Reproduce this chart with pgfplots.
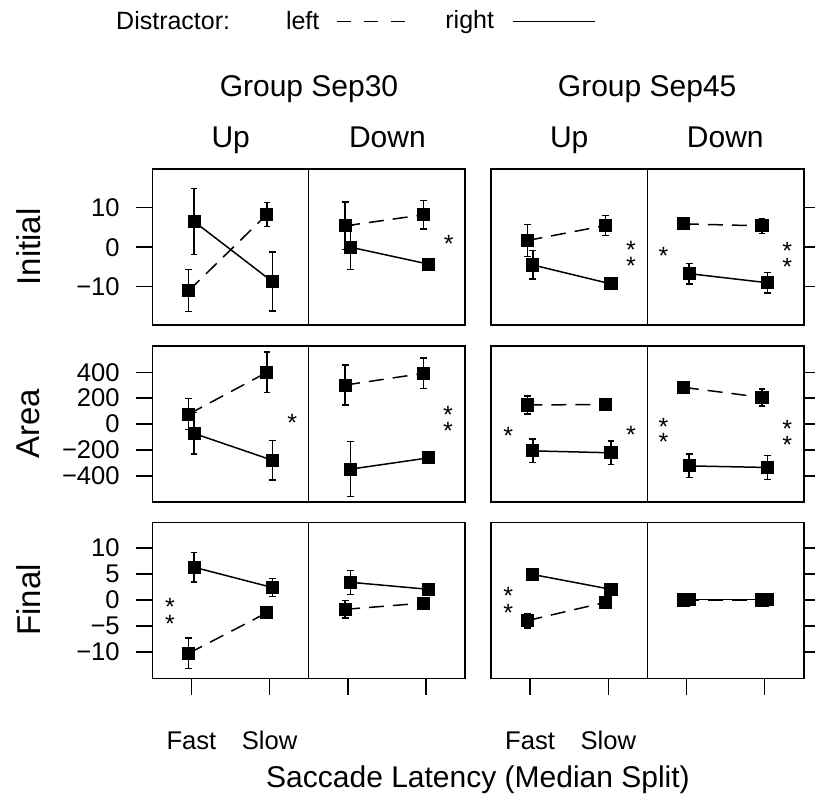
\documentclass[border=0pt]{standalone}
\usepackage{fontspec}
\setmainfont{Liberation Sans}
\usepackage{pgfplots}
\pgfplotsset{compat=1.18}
\newcommand\tickfont{\fontsize{12.8pt}{15pt}\selectfont}
\newcommand\titfont{\fontsize{15pt}{18pt}\selectfont}
\newcommand\rowfont{\fontsize{16.5pt}{19pt}\selectfont}
\newcommand\legfont{\fontsize{12.5pt}{15pt}\selectfont}
\begin{document}
\begin{tikzpicture}
\useasboundingbox (0,0) rectangle (407.5pt,399pt);
\pgfplotsset{
  panel/.style={scale only axis, width=78.2pt, height=78pt, xmin=0.5, xmax=2.5,
    anchor=north west, clip=false,
    axis line style={line width=0.7pt},
    tick style={black, line width=0.7pt}, major tick length=8.3pt, tick align=outside,
    tick label style={font=\tickfont, inner sep=0pt},
    yticklabel style={xshift=-7.8pt}, xticklabel style={anchor=base, yshift=-27.5pt},
    xtick=\empty},
  rowI/.style={ymin=-19.7, ymax=19.8, ytick={-10,0,10}},
  rowA/.style={ymin=-600, ymax=602, ytick={-400,-200,0,200,400}},
  rowF/.style={ymin=-15.06, ymax=14.94, ytick={-10,-5,0,5,10}},
  labI/.style={ytick pos=left, yticklabels={−10,0,10}},
  labA/.style={ytick pos=left, yticklabels={−400,−200,0,200,400}},
  labF/.style={ytick pos=left, yticklabels={−10,−5,0,5,10}},
  mid/.style={ytick=\empty},
  rgt/.style={ytick pos=right, yticklabels={}},
  bot/.style={xtick={1,2}, xtick pos=bottom, xticklabels={Fast,Slow}},
  botn/.style={xtick={1,2}, xtick pos=bottom, xticklabels={}},
  sL/.style={black, line width=0.75pt, dash pattern=on 7.5pt off 4.5pt, mark=square*, mark size=2.9pt,
    mark options={solid, fill=black},
    error bars/.cd, y dir=both, y explicit, error mark=-, error bar style={solid, line width=0.75pt},
    error mark options={rotate=90, mark size=1.7pt, line width=0.75pt}},
  sR/.style={black, line width=0.75pt, solid, mark=square*, mark size=2.9pt,
    mark options={solid, fill=black},
    error bars/.cd, y dir=both, y explicit, error mark=-, error bar style={solid, line width=0.75pt},
    error mark options={rotate=90, mark size=1.7pt, line width=0.75pt}},
}
\tikzset{ast/.style={font=\legfont, inner sep=0pt, yshift=-2.7pt}}

% ---------------- Row 1: Initial ----------------
\begin{axis}[panel, rowI, labI, at={(76.15pt,314.5pt)}]
\addplot[sL] coordinates {(0.966,-11.0) +- (0,5.3) (1.966,8.3) +- (0,3.0)};
\addplot[sR] coordinates {(1.034,6.5) +- (0,8.4) (2.034,-8.7) +- (0,7.5)};
\end{axis}
\begin{axis}[panel, rowI, mid, at={(154.35pt,314.5pt)}]
\addplot[sL] coordinates {(0.966,5.4) +- (0,6.0) (1.966,8.2) +- (0,3.6)};
\addplot[sR] coordinates {(1.034,0.0) +- (0,5.6) (2.034,-4.3) +- (0,1.3)};
\node[ast] at (axis cs:2.29,2.3) {*};
\end{axis}
\begin{axis}[panel, rowI, mid, at={(245.5pt,314.5pt)}]
\addplot[sL] coordinates {(0.966,1.7) +- (0,4.0) (1.966,5.5) +- (0,2.5)};
\addplot[sR] coordinates {(1.034,-4.5) +- (0,3.6) (2.034,-9.3) +- (0,1.2)};
\node[ast] at (axis cs:2.29,0.58) {*};
\node[ast] at (axis cs:2.29,-3.4) {*};
\end{axis}
\begin{axis}[panel, rowI, rgt, at={(323.7pt,314.5pt)}]
\addplot[sL] coordinates {(0.966,5.9) +- (0,0.8) (1.966,5.4) +- (0,1.9)};
\addplot[sR] coordinates {(1.034,-6.7) +- (0,2.6) (2.034,-9.0) +- (0,2.6)};
\node[ast] at (axis cs:0.705,-0.86) {*};
\node[ast] at (axis cs:2.287,0.33) {*};
\node[ast] at (axis cs:2.287,-3.65) {*};
\end{axis}

% ---------------- Row 2: Area ----------------
\begin{axis}[panel, rowA, labA, at={(76.15pt,226pt)}]
\addplot[sL] coordinates {(0.966,77) +- (0,120) (1.966,399) +- (0,155)};
\addplot[sR] coordinates {(1.034,-72) +- (0,160) (2.034,-278) +- (0,152)};
\node[ast] at (axis cs:2.288,49) {*};
\end{axis}
\begin{axis}[panel, rowA, mid, at={(154.35pt,226pt)}]
\addplot[sL] coordinates {(0.966,301) +- (0,155) (1.966,391) +- (0,118)};
\addplot[sR] coordinates {(1.034,-347) +- (0,212) (2.034,-260) +- (0,30)};
\node[ast] at (axis cs:2.28,116) {*};
\node[ast] at (axis cs:2.28,-8) {*};
\end{axis}
\begin{axis}[panel, rowA, mid, at={(245.5pt,226pt)}]
\addplot[sL] coordinates {(0.966,147) +- (0,70) (1.966,152) +- (0,30)};
\addplot[sR] coordinates {(1.034,-206) +- (0,90) (2.034,-221) +- (0,90)};
\node[ast] at (axis cs:0.72,-46) {*};
\node[ast] at (axis cs:2.29,-41) {*};
\end{axis}
\begin{axis}[panel, rowA, rgt, at={(323.7pt,226pt)}]
\addplot[sL] coordinates {(0.966,283) +- (0,35) (1.966,206) +- (0,66)};
\addplot[sR] coordinates {(1.034,-322) +- (0,90) (2.034,-334) +- (0,93)};
\node[ast] at (axis cs:0.705,23) {*};
\node[ast] at (axis cs:0.705,-98) {*};
\node[ast] at (axis cs:2.287,5) {*};
\node[ast] at (axis cs:2.287,-118) {*};
\end{axis}

% ---------------- Row 3: Final ----------------
\begin{axis}[panel, rowF, labF, bot, at={(76.15pt,137.85pt)}]
\addplot[sL] coordinates {(0.966,-10.25) +- (0,2.9) (1.966,-2.44) +- (0,0.6)};
\addplot[sR] coordinates {(1.034,6.3) +- (0,2.85) (2.034,2.4) +- (0,1.7)};
\node[ast] at (axis cs:0.726,-0.33) {*};
\node[ast] at (axis cs:0.726,-3.5) {*};
\end{axis}
\begin{axis}[panel, rowF, mid, botn, at={(154.35pt,137.85pt)}]
\addplot[sL] coordinates {(0.966,-1.8) +- (0,1.7) (1.966,-0.6) +- (0,0.7)};
\addplot[sR] coordinates {(1.034,3.4) +- (0,2.3) (2.034,2.05) +- (0,0.7)};
\end{axis}
\begin{axis}[panel, rowF, mid, bot, at={(245.5pt,137.85pt)}]
\addplot[sL] coordinates {(0.966,-3.96) +- (0,1.4) (1.966,-0.44) +- (0,0.4)};
\addplot[sR] coordinates {(1.034,4.9) +- (0,0.4) (2.034,2.05) +- (0,0.4)};
\node[ast] at (axis cs:0.72,1.73) {*};
\node[ast] at (axis cs:0.72,-1.4) {*};
\end{axis}
\begin{axis}[panel, rowF, rgt, botn, at={(323.7pt,137.85pt)}]
\addplot[sL] coordinates {(0.966,0.0) +- (0,0.3) (1.966,0.0) +- (0,0.3)};
\addplot[sR] coordinates {(1.034,0.05) +- (0,0.3) (2.034,0.05) +- (0,0.3)};
\end{axis}

% ---------------- Titles ----------------
\node[font=\titfont, anchor=base, inner sep=0pt] at (154.5pt,350.65pt) {Group Sep30};
\node[font=\titfont, anchor=base, inner sep=0pt] at (323.6pt,350.65pt) {Group Sep45};
\node[font=\titfont, anchor=base, inner sep=0pt] at (115.35pt,325pt) {Up};
\node[font=\titfont, anchor=base, inner sep=0pt] at (193.7pt,325pt) {Down};
\node[font=\titfont, anchor=base, inner sep=0pt] at (284.6pt,325pt) {Up};
\node[font=\titfont, anchor=base, inner sep=0pt] at (362.65pt,325pt) {Down};
\node[font=\titfont, anchor=base, inner sep=0pt] at (239pt,5pt) {Saccade Latency (Median Split)};
\node[font=\rowfont, rotate=90, inner sep=0pt] at (14.4pt,275.5pt) {Initial};
\node[font=\rowfont, rotate=90, inner sep=0pt] at (14.4pt,187pt) {Area};
\node[font=\rowfont, rotate=90, inner sep=0pt] at (14.4pt,99pt) {Final};

% ---------------- Legend ----------------
\node[font=\legfont, anchor=base west, inner sep=0pt] at (57.9pt,384pt) {Distractor:};
\node[font=\legfont, anchor=base west, inner sep=0pt] at (142.8pt,384pt) {left};
\draw[black, line width=0.7pt, dash pattern=on 7pt off 6.3pt] (168.65pt,388.15pt) -- (202.5pt,388.15pt);
\node[font=\legfont, anchor=base west, inner sep=0pt] at (222.5pt,384.6pt) {right};
\draw[black, line width=0.7pt] (256.65pt,388.15pt) -- (297.5pt,388.15pt);
\end{tikzpicture}
\end{document}
